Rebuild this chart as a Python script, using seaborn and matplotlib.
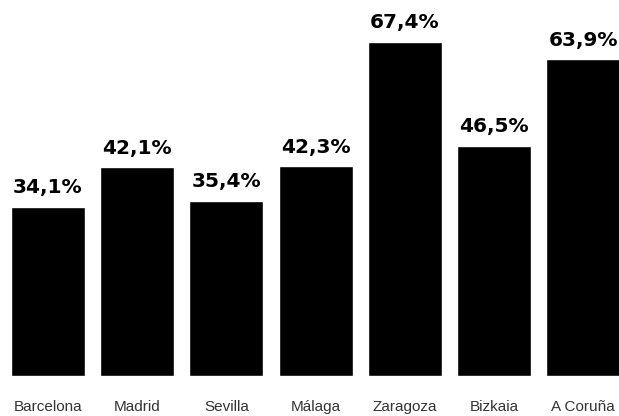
import matplotlib
matplotlib.use("Agg")
import matplotlib.pyplot as plt
import pandas as pd
import seaborn as sns

sns.set_style("white")

cities = ["Barcelona", "Madrid", "Sevilla", "Málaga", "Zaragoza", "Bizkaia", "A Coruña"]
values = [34.1, 42.1, 35.4, 42.3, 67.4, 46.5, 63.9]

df = pd.DataFrame({"city": cities, "value": values})

fig = plt.figure(figsize=(6.19, 4.16), dpi=100)
ax = fig.add_axes([0, 40 / 416, 1, 376 / 416])

sns.barplot(data=df, x="city", y="value", order=cities, color="black",
            saturation=1, width=0.83, ax=ax)

# value labels with comma decimals
labels = [f"{v:.1f}".replace(".", ",") + "%" for v in values]
ax.bar_label(ax.containers[0], labels=labels, padding=7, color="black",
             fontsize=14.5, fontweight="bold", family="DejaVu Sans")

ax.set_xlim(-0.538, 6.403)
ax.set_ylim(0, 75.9)
ax.set_xlabel("")
ax.set_ylabel("")
ax.set_yticks([])
ax.tick_params(axis="x", length=0, pad=17, colors="#333333")
for lbl in ax.get_xticklabels():
    lbl.set_family("Liberation Sans")
    lbl.set_fontsize(11)
sns.despine(ax=ax, left=True, bottom=True)

plt.savefig("out.png", dpi=100)
plt.close()
